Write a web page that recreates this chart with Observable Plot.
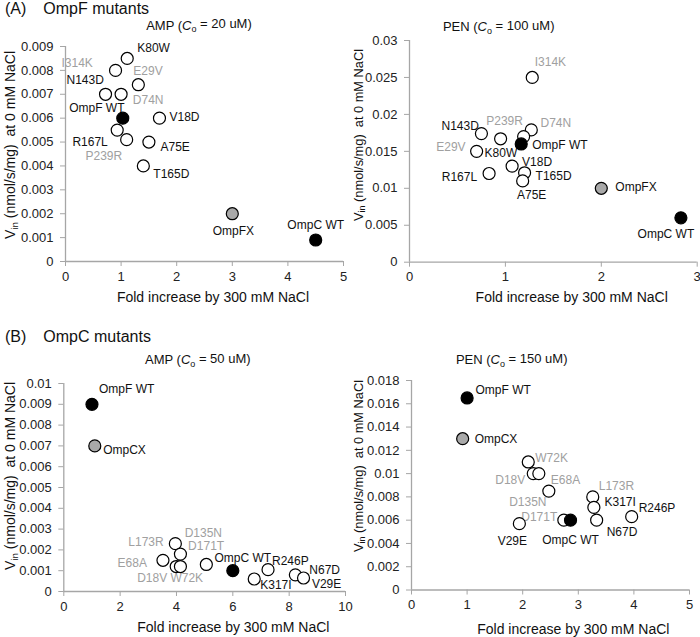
<!DOCTYPE html>
<html><head><meta charset="utf-8">
<script src="https://cdn.jsdelivr.net/npm/d3@7"></script>
<script src="https://cdn.jsdelivr.net/npm/@observablehq/plot@0.6"></script>
<style>
html,body{margin:0;padding:0;background:#fff;}
#root{position:relative;width:700px;height:637px;overflow:hidden;font-family:"Liberation Sans",Arial,sans-serif;}
.panel{position:absolute;}
.panel svg{overflow:visible;}
</style></head><body><div id="root"></div>
<script>
// ---------- DATA ----------
// (A) OmpF mutants, AMP (Co = 20 uM)
const a1Names = ["K80W","I314K","E29V","N143D","D74N","R167L","P239R","V18D","A75E","T165D","OmpF WT","OmpFX","OmpC WT"];
const a1Fold  = [1.11, 0.9, 1.31, 0.72, 1.0, 0.93, 1.1, 1.69, 1.5, 1.4, 1.03, 3.0, 4.5];
const a1Vin   = [0.0085, 0.008, 0.0074, 0.007, 0.007, 0.0055, 0.0051, 0.006, 0.005, 0.004, 0.006, 0.002, 0.0009];
const a1XTicks = [0, 1, 2, 3, 4, 5];
const a1YTicks = [0, 0.001, 0.002, 0.003, 0.004, 0.005, 0.006, 0.007, 0.008, 0.009];

// (A) OmpF mutants, PEN (Co = 100 uM)
const a2Names = ["I314K","N143D","P239R","D74N","K80W","E29V","V18D","R167L","T165D","A75E","OmpF WT","OmpFX","OmpC WT"];
const a2Fold  = [1.28, 0.75, 0.95, 1.27, 1.19, 0.7, 1.07, 0.83, 1.2, 1.18, 1.165, 2.0, 2.83];
const a2Vin   = [0.025, 0.0174, 0.0167, 0.0179, 0.017, 0.015, 0.013, 0.012, 0.0121, 0.011, 0.016, 0.01, 0.006];
const a2XTicks = [0, 1, 2, 3];
const a2YTicks = [0, 0.005, 0.01, 0.015, 0.02, 0.025, 0.03];

// (B) OmpC mutants, AMP (Co = 50 uM)
const b1Names = ["L173R","D135N","D171T","E68A","D18V","W72K","R246P","K317I","N67D","V29E","OmpF WT","OmpCX","OmpC WT"];
const b1Fold  = [3.96, 5.06, 4.14, 3.52, 3.99, 4.14, 7.25, 6.76, 8.22, 8.51, 1.0, 1.1, 6.0];
const b1Vin   = [0.0023, 0.0013, 0.0018, 0.0015, 0.0012, 0.0012, 0.00105, 0.0006, 0.0008, 0.00065, 0.009, 0.007, 0.001];
const b1XTicks = [0, 2, 4, 6, 8, 10];
const b1YTicks = [0, 0.001, 0.002, 0.003, 0.004, 0.005, 0.006, 0.007, 0.008, 0.009, 0.01];

// (B) OmpC mutants, PEN (Co = 150 uM)
const b2Names = ["W72K","D18V","D135N","E68A","L173R","K317I","N67D","R246P","V29E","D171T","OmpF WT","OmpCX","OmpC WT"];
const b2Fold  = [2.1, 2.19, 2.29, 2.47, 3.26, 3.28, 3.33, 3.96, 1.94, 2.74, 1.0, 0.92, 2.86];
const b2Vin   = [0.011, 0.01, 0.01, 0.0085, 0.008, 0.0071, 0.006, 0.0063, 0.0057, 0.006, 0.0165, 0.013, 0.006];
const b2XTicks = [0, 1, 2, 3, 4, 5];
const b2YTicks = [0, 0.002, 0.004, 0.006, 0.008, 0.01, 0.012, 0.014, 0.016, 0.018];

// ---------- STYLE / LAYOUT ----------
const FONT = '"Liberation Sans", Arial, sans-serif';
const AXIS_GRAY = "#a6a6a6";
const LABEL_GRAY = "#a0a0a0";
const LABEL_BLACK = "#111";
const kindOf = n => /WT$/.test(n) ? "wt" : /X$/.test(n) ? "chimera" : "mutant";

const panels = [
  {
    names: a1Names, fold: a1Fold, vin: a1Vin, xTicks: a1XTicks, yTicks: a1YTicks,
    left: 0, top: 0, width: 350, height: 310,
    margin: [46, 7, 49, 65],
    header: ["(A)", "OmpF mutants", 8.8],
    sub: ["AMP (", " = 20 uM)", 199, 25],
    xTitle: [213, 296.7], yTitle: [10, 145, 14],
    gray: ["I314K","E29V","D74N","P239R"],
    place: {
      "K80W": [10, -10, "start"], "I314K": [-22.7, -7.5, "end"], "E29V": [-5, -13.4, "start"],
      "N143D": [-1.7, -13.7, "end"], "D74N": [11.7, 5.6, "start"], "OmpF WT": [1.7, -10.3, "end"],
      "R167L": [-9.4, 12.2, "end"], "P239R": [-4.5, 16, "end"], "V18D": [10, -1, "start"],
      "A75E": [11.6, 5, "start"], "T165D": [10, 8, "start"], "OmpFX": [1, 17.5, "middle"],
      "OmpC WT": [0, -14.5, "middle"]
    }
  },
  {
    names: a2Names, fold: a2Fold, vin: a2Vin, xTicks: a2XTicks, yTicks: a2YTicks,
    left: 350, top: 0, width: 350, height: 310,
    margin: [40, 3.3, 48.3, 59],
    header: null,
    sub: ["PEN (", " = 100 uM)", 148.7, 26.7],
    xTitle: [221.7, 296.7], yTitle: [8.3, 135, 12.8],
    gray: ["I314K","P239R","D74N","E29V"],
    place: {
      "I314K": [2.5, -15, "start"], "N143D": [-2.6, -7.2, "end"], "P239R": [4, -18, "middle"],
      "D74N": [9.2, -6.5, "start"], "K80W": [-6.4, 16.8, "end"], "E29V": [-11, -4, "end"],
      "V18D": [10, -4, "start"], "R167L": [-12, 4, "end"], "T165D": [11, 3, "start"],
      "A75E": [9, 14, "middle"], "OmpF WT": [11, 1, "start"], "OmpFX": [14, -1, "start"],
      "OmpC WT": [-15, 16, "middle"]
    }
  },
  {
    names: b1Names, fold: b1Fold, vin: b1Vin, xTicks: b1XTicks, yTicks: b1YTicks,
    left: 0, top: 320, width: 350, height: 317,
    margin: [63, 5, 46, 63.3],
    header: ["(B)", "OmpC mutants", 16.7],
    sub: ["AMP (", " = 50 uM)", 197.8, 39.3],
    xTitle: [233.3, 306.7], yTitle: [10, 156, 14],
    gray: ["L173R","D135N","D171T","E68A","D18V","W72K"],
    place: {
      "L173R": [-11.7, -1.5, "end"], "D135N": [-21.7, -31, "start"], "D171T": [7.7, -7.6, "start"],
      "E68A": [-16, 3, "end"], "D18V": [-9, 11.3, "end"], "W72K": [-10, 11.3, "start"],
      "R246P": [4, -9, "start"], "K317I": [6, 6.5, "start"], "N67D": [14, -5, "start"],
      "V29E": [8.4, 6, "start"], "OmpF WT": [7, -15.5, "start"], "OmpCX": [8.4, 4.6, "start"],
      "OmpC WT": [10, -13, "middle"]
    }
  },
  {
    names: b2Names, fold: b2Fold, vin: b2Vin, xTicks: b2XTicks, yTicks: b2YTicks,
    left: 350, top: 320, width: 350, height: 317,
    margin: [60, 11, 47.5, 61],
    header: null,
    sub: ["PEN (", " = 150 uM)", 161.7, 39.3],
    xTitle: [223.3, 309.3], yTitle: [8.3, 146, 12.8],
    gray: ["W72K","D18V","D135N","E68A","L173R","D171T"],
    place: {
      "W72K": [7, -4, "start"], "D18V": [-8, 7, "end"], "D135N": [-11, 28.5, "middle"],
      "E68A": [2, -11, "start"], "L173R": [6, -11, "start"], "K317I": [10.6, -5, "start"],
      "N67D": [10, 11.5, "start"], "R246P": [7, -9, "start"], "V29E": [-7, 17, "middle"],
      "D171T": [-6.6, -3.5, "end"], "OmpF WT": [8.4, -8, "start"], "OmpCX": [12, 0.5, "start"],
      "OmpC WT": [0, 19.5, "middle"]
    }
  }
];

const root = document.getElementById("root");

function fmt(d) { return String(d); }

panels.forEach(p => {
  const data = p.names.map((name, i) => ({name, fold: p.fold[i], vin: p.vin[i], kind: kindOf(name)}));
  const xMax = p.xTicks[p.xTicks.length - 1];
  const yMax = p.yTicks[p.yTicks.length - 1];
  const labels = data.map(d => {
    const [dx, dy, anchor] = p.place[d.name];
    return Plot.text([d], {
      x: "fold", y: "vin", text: "name", dx, dy, textAnchor: anchor,
      fill: p.gray.includes(d.name) ? LABEL_GRAY : LABEL_BLACK, fontSize: 12
    });
  });
  const chart = Plot.plot({
    width: p.width, height: p.height,
    marginTop: p.margin[0], marginRight: p.margin[1], marginBottom: p.margin[2], marginLeft: p.margin[3],
    x: {domain: [0, xMax]},
    y: {domain: [0, yMax]},
    style: {fontFamily: FONT, background: "transparent", overflow: "visible"},
    marks: [
      Plot.ruleX([0], {stroke: AXIS_GRAY, strokeWidth: 1.3}),
      Plot.ruleY([0], {stroke: AXIS_GRAY, strokeWidth: 1.3}),
      Plot.axisX({ticks: p.xTicks, tickSize: 5, tickPadding: 5, stroke: AXIS_GRAY, fill: "#222", fontSize: 13, label: null, tickFormat: fmt}),
      Plot.axisY({ticks: p.yTicks, tickSize: 5, tickPadding: 7, stroke: AXIS_GRAY, fill: "#222", fontSize: 13, label: null, tickFormat: fmt}),
      ...labels,
      Plot.dot(data.filter(d => d.kind === "mutant"), {x: "fold", y: "vin", r: 6, fill: "white", stroke: "black", strokeWidth: 1.2}),
      Plot.dot(data.filter(d => d.kind === "chimera"), {x: "fold", y: "vin", r: 6, fill: "#a9a9a9", stroke: "black", strokeWidth: 1.2}),
      Plot.dot(data.filter(d => d.kind === "wt"), {x: "fold", y: "vin", r: 6, fill: "black", stroke: "black", strokeWidth: 1.2})
    ]
  });
  const div = document.createElement("div");
  div.className = "panel";
  div.style.left = p.left + "px";
  div.style.top = p.top + "px";
  div.appendChild(chart);
  root.appendChild(div);

  const svg = d3.select(chart);
  // x title
  svg.append("text")
    .attr("x", p.xTitle[0]).attr("y", p.xTitle[1]).attr("dy", "0.35em")
    .attr("text-anchor", "middle").attr("font-size", 14).attr("fill", "#111")
    .attr("font-family", FONT)
    .text("Fold increase by 300 mM NaCl");
  // y title
  const yt = svg.append("text")
    .attr("transform", `translate(${p.yTitle[0]},${p.yTitle[1]}) rotate(-90)`)
    .attr("dy", "0.35em").attr("text-anchor", "middle")
    .attr("font-size", p.yTitle[2]).attr("fill", "#111").attr("font-family", FONT);
  yt.append("tspan").text("V");
  yt.append("tspan").attr("font-size", p.yTitle[2] * 0.7).attr("dy", "0.3em").text("in");
  yt.append("tspan").attr("dy", "-0.21em").text(" (nmol/s/mg)\u00a0 at 0 mM NaCl");
  // subtitle
  const st = svg.append("text")
    .attr("x", p.sub[2]).attr("y", p.sub[3]).attr("dy", "0.35em")
    .attr("text-anchor", "middle").attr("font-size", 13).attr("fill", "#111")
    .attr("font-family", FONT);
  st.append("tspan").text(p.sub[0]);
  st.append("tspan").attr("font-style", "italic").text("C");
  st.append("tspan").attr("font-size", 9).attr("dy", "0.3em").text("o");
  st.append("tspan").attr("dy", "-0.3em").text(p.sub[1]);
  // header
  if (p.header) {
    svg.append("text").attr("x", 5).attr("y", p.header[2]).attr("dy", "0.35em")
      .attr("text-anchor", "start")
      .attr("font-size", 16).attr("fill", "#111").attr("font-family", FONT).text(p.header[0]);
    svg.append("text").attr("x", 43.3).attr("y", p.header[2]).attr("dy", "0.35em")
      .attr("text-anchor", "start")
      .attr("font-size", 16).attr("fill", "#111").attr("font-family", FONT).text(p.header[1]);
  }
});
</script></body></html>
